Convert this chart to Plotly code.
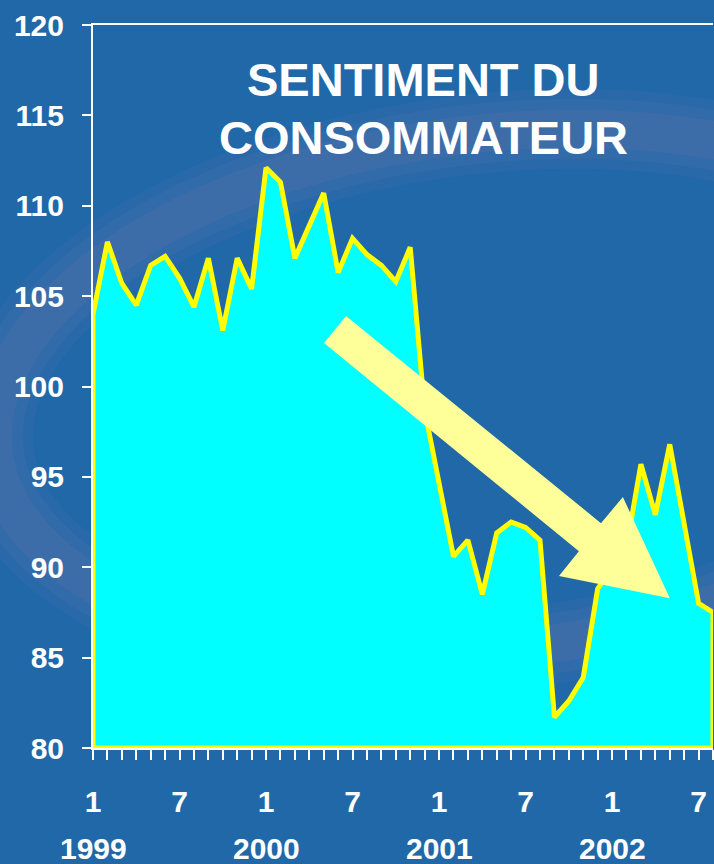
import numpy as np
import plotly.graph_objects as go

# ---- data ----
years = ["1999", "2000", "2001", "2002"]
month_tick_labels = ["1", "7"]
sentiment = [104.0, 108.0, 105.7, 104.5, 106.7, 107.2, 106.0, 104.4, 107.1, 103.1,
             107.1, 105.4, 112.1, 111.3, 107.1, 108.9, 110.7, 106.3, 108.2, 107.3,
             106.7, 105.8, 107.7, 98.7, 94.6, 90.6, 91.5, 88.5, 91.9, 92.5,
             92.2, 91.5, 81.7, 82.6, 83.9, 88.8, 90.0, 91.1, 95.7, 92.9,
             96.8, 92.3, 88.0, 87.5]
y_min, y_max = 80, 120
y_ticks = [80, 85, 90, 95, 100, 105, 110, 115, 120]
title_lines = ["SENTIMENT DU", "CONSOMMATEUR"]

BG = "#2168A9"
CYAN = "#00FFFF"
YELLOW = "#FFFF00"
ARROW = "#FFFF99"
NUM_FONT = "Liberation Sans, Arial, sans-serif"
TITLE_FONT = "Liberation Sans, Arial, sans-serif"

W, H = 714, 864
L, R, T, B = 93, 1, 25, 116
pw, ph = W - L - R, H - T - B

def px2paper(px, py):
    return (px - L) / pw, (H - B - py) / ph

n = len(sentiment)
x_idx = list(range(n))
last = n - 1

# closed outline: baseline -> data -> baseline -> back to start
xs = [0] + x_idx + [last, 0]
ys = [y_min] + sentiment + [y_min, y_min]

fig = go.Figure()
fig.add_trace(go.Scatter(
    x=xs, y=ys, mode="lines", fill="toself", fillcolor=CYAN,
    line=dict(color=YELLOW, width=5), cliponaxis=False, hoverinfo="skip",
    showlegend=False))

shapes = []
# decorative swoosh (tilted ellipse ring) in the background
t = np.linspace(0, 2 * np.pi, 200)
cx, cy, a, b, phi = 490, 392, 500, 258, np.deg2rad(-7)
ex = cx + a * np.cos(t) * np.cos(phi) - b * np.sin(t) * np.sin(phi)
ey = cy + a * np.cos(t) * np.sin(phi) + b * np.sin(t) * np.cos(phi)
pts = [px2paper(u, v) for u, v in zip(ex, ey)]
path = "M " + " L ".join(f"{p[0]:.4f},{p[1]:.4f}" for p in pts) + " Z"
for wdt, op in [(80, 0.08), (60, 0.10), (38, 0.12)]:
    shapes.append(dict(type="path", path=path, xref="paper", yref="paper",
                       line=dict(color=f"rgba(140,125,175,{op})", width=wdt),
                       fillcolor="rgba(0,0,0,0)", layer="below"))

# arrow (decoration) in data coordinates
arrow_pts = [(16.02, 102.40), (17.55, 103.90), (35.23, 92.44), (36.75, 93.88),
             (40.01, 88.29), (32.32, 89.51), (33.70, 90.89)]
apath = "M " + " L ".join(f"{p[0]},{p[1]}" for p in arrow_pts) + " Z"
shapes.append(dict(type="path", path=apath, xref="x", yref="y",
                   fillcolor=ARROW, line=dict(width=0), layer="above"))

annotations = []
for i, yr in enumerate(years):
    annotations.append(dict(x=i * 12, y=0, xref="x", yref="paper", text=yr,
                            showarrow=False, yanchor="middle", yshift=-100,
                            font=dict(family=NUM_FONT, size=30, color="white",
                                      weight="bold")))
tx, _ = px2paper(423, 0)
for line, py in zip(title_lines, [80, 137]):
    _, ty = px2paper(0, py)
    annotations.append(dict(x=tx, y=ty, xref="paper", yref="paper", text=line,
                            showarrow=False, yanchor="middle", xanchor="center",
                            font=dict(family=TITLE_FONT, size=47, color="white",
                                      weight="bold")))

tickvals = [i for i in x_idx if i % 6 == 0]
ticktext = [month_tick_labels[(i // 6) % 2] for i in tickvals]

fig.update_layout(
    width=W, height=H, margin=dict(l=L, r=R, t=T, b=B),
    paper_bgcolor=BG, plot_bgcolor="rgba(0,0,0,0)",
    shapes=shapes, annotations=annotations,
    xaxis=dict(range=[0, last], tickvals=tickvals, ticktext=ticktext,
               showgrid=False, zeroline=False, showline=True, linecolor="white",
               linewidth=2, mirror=True, ticks="outside", ticklen=10,
               tickcolor="white", tickwidth=1.5, ticklabelstandoff=16,
               minor=dict(dtick=1, tick0=0, ticks="outside", ticklen=10,
                          tickcolor="white", tickwidth=1.5),
               tickfont=dict(family=NUM_FONT, size=30, color="white", weight="bold")),
    yaxis=dict(range=[y_min, y_max], tickvals=y_ticks, showgrid=False,
               zeroline=False, showline=True, linecolor="white", linewidth=2,
               ticks="outside", ticklen=9, tickcolor="white", tickwidth=2,
               ticklabelstandoff=12,
               tickfont=dict(family=NUM_FONT, size=30, color="white", weight="bold")),
)

fig.write_html("out.html", config={"displayModeBar": False},
               post_script="document.body.style.margin='0';document.body.style.background='" + BG + "';")
